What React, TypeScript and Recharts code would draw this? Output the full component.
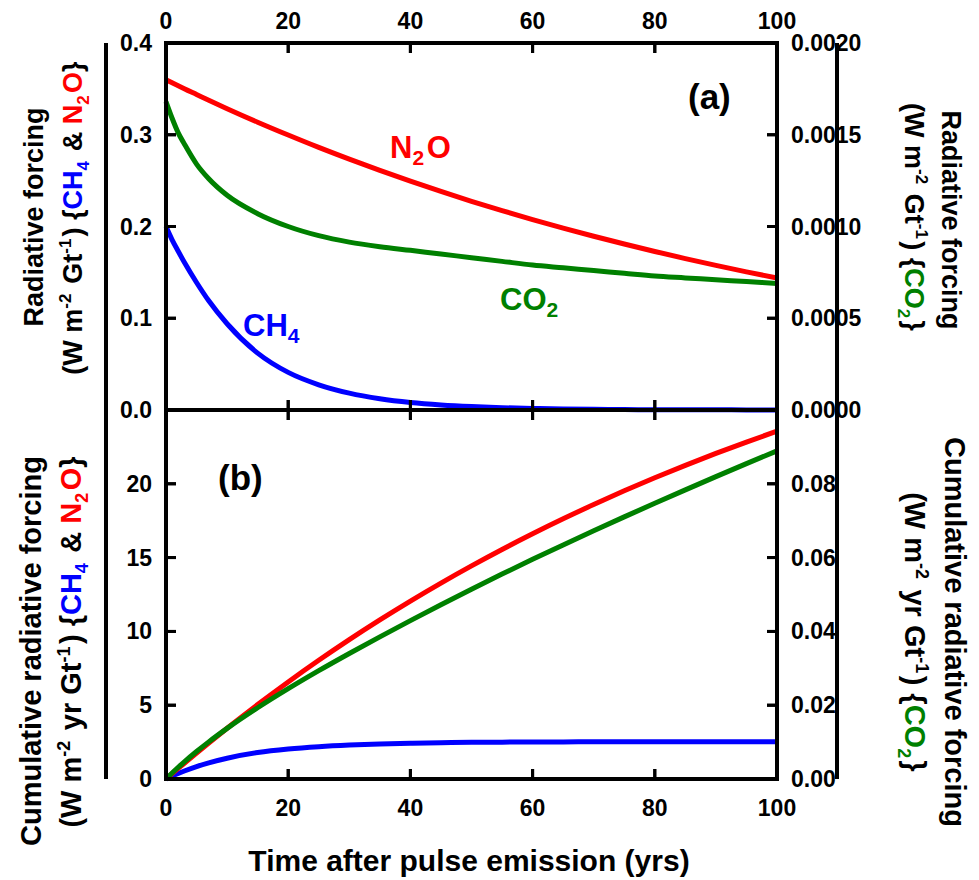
import React from 'react';
import { LineChart, Line, XAxis, YAxis } from 'recharts';

const years = [0, 1, 2, 3, 5, 7, 10, 15, 20, 25, 30, 35, 40, 45, 50, 55, 60, 65, 70, 75, 80, 85, 90, 95, 100];

const n2oForcing = [0.36, 0.3567, 0.3535, 0.3502, 0.3439, 0.3376, 0.3284, 0.3137, 0.2997, 0.2862, 0.2734, 0.2611, 0.2494, 0.2382, 0.2275, 0.2173, 0.2076, 0.1983, 0.1894, 0.1809, 0.1728, 0.165, 0.1576, 0.1506, 0.1438];
const ch4Forcing = [0.2, 0.1855, 0.173, 0.161, 0.139, 0.119, 0.094, 0.062, 0.041, 0.0275, 0.0184, 0.0123, 0.0082, 0.0055, 0.0037, 0.0025, 0.0017, 0.0011, 0.0008, 0.0005, 0.0003, 0.0002, 0.0002, 0.0001, 0.0001];
const co2Forcing = [0.00168, 0.00159, 0.00151, 0.00145, 0.00134, 0.00126, 0.00117, 0.00107, 0.001, 0.00095, 0.000915, 0.00089, 0.00087, 0.00085, 0.00083, 0.00081, 0.00079, 0.000775, 0.00076, 0.000745, 0.00073, 0.00072, 0.00071, 0.0007, 0.00069];

const n2oCumulative = [0, 0.358, 0.713, 1.065, 1.76, 2.442, 3.44, 5.045, 6.578, 8.043, 9.442, 10.779, 12.055, 13.274, 14.439, 15.551, 16.613, 17.628, 18.597, 19.523, 20.407, 21.252, 22.059, 22.829, 23.565];
const ch4Cumulative = [0, 0.193, 0.372, 0.539, 0.839, 1.097, 1.41, 1.79, 2.03, 2.19, 2.3, 2.375, 2.425, 2.46, 2.483, 2.498, 2.508, 2.515, 2.52, 2.523, 2.525, 2.527, 2.528, 2.529, 2.53];
const co2Cumulative = [0, 0.00164, 0.00319, 0.00467, 0.00746, 0.01006, 0.01371, 0.01931, 0.02448, 0.02936, 0.03402, 0.03853, 0.04293, 0.04723, 0.05143, 0.05553, 0.05953, 0.06344, 0.06728, 0.07104, 0.07473, 0.07836, 0.08194, 0.08546, 0.08893];

const xTicks = [0, 20, 40, 60, 80, 100];
const topLeftTicks = [0, 0.1, 0.2, 0.3, 0.4];
const topRightTicks = [0, 0.0005, 0.001, 0.0015, 0.002];
const botLeftTicks = [0, 5, 10, 15, 20];
const botRightTicks = [0, 0.02, 0.04, 0.06, 0.08];

const TOP_LEFT_MAX = 0.4;
const TOP_RIGHT_MAX = 0.002;
const BOT_LEFT_MAX = 25;
const BOT_RIGHT_MAX = 0.1;

const data = years.map((t, i) => ({
  t,
  ch4: ch4Forcing[i],
  n2o: n2oForcing[i],
  co2: co2Forcing[i],
  ch4c: ch4Cumulative[i],
  n2oc: n2oCumulative[i],
  co2c: co2Cumulative[i],
}));

const FONT = '"Liberation Sans", Arial, Helvetica, sans-serif';
const RED = '#ff0000';
const GREEN = '#008000';
const BLUE = '#0000ff';
const TICK_LEN = 10;
const TICK_FS = 23;

const W = 979;
const H = 880;
const M = { top: 13, right: 122, bottom: 71, left: 106 };
const XAXIS_H = 30;
const PL = M.left + 60;
const PR = W - M.right - 80;
const TOP_Y0 = M.top + XAXIS_H;
const BOT_Y1 = H - M.bottom - XAXIS_H;
const MID_Y = 410;
const topFrac = (MID_Y - TOP_Y0) / (BOT_Y1 - TOP_Y0);
const botFrac = (BOT_Y1 - MID_Y) / (BOT_Y1 - TOP_Y0);
const TL_MIN = -TOP_LEFT_MAX * (1 - topFrac) / topFrac;
const TR_MIN = -TOP_RIGHT_MAX * (1 - topFrac) / topFrac;
const BL_MAX = BOT_LEFT_MAX / botFrac;
const BR_MAX = BOT_RIGHT_MAX / botFrac;

// bottom-panel tick values expressed in the units of the visible (top-panel) axes
const toTl = (v: number) => TL_MIN + (v / BL_MAX) * (TOP_LEFT_MAX - TL_MIN);
const fromTl = (u: number) => ((u - TL_MIN) / (TOP_LEFT_MAX - TL_MIN)) * BL_MAX;
const toTr = (v: number) => TR_MIN + (v / BR_MAX) * (TOP_RIGHT_MAX - TR_MIN);
const fromTr = (u: number) => ((u - TR_MIN) / (TOP_RIGHT_MAX - TR_MIN)) * BR_MAX;

const leftTicks = [...botLeftTicks.map(toTl), ...topLeftTicks];
const rightTicks = [...botRightTicks.map(toTr), ...topRightTicks];
const leftFmt = (u: number) => (u >= -1e-9 ? u.toFixed(1) : String(Math.round(fromTl(u))));
const rightFmt = (u: number) => (u >= -1e-9 ? u.toFixed(4) : fromTr(u).toFixed(2));
const intFmt = (v: number) => String(v);

type Side = 'top' | 'bottom' | 'left' | 'right';

const makeTick = (side: Side, fmt: (v: number) => string) => (props: any) => {
  const { x, y, payload } = props;
  const v = payload.value as number;
  let tx = x;
  let ty = y;
  let anchor: 'start' | 'middle' | 'end' = 'middle';
  let dy = '0.35em';
  let d = '';
  if (side === 'left') {
    tx = PL - 14;
    anchor = 'end';
    d = `M${PL},${y}H${PL + TICK_LEN}`;
  } else if (side === 'right') {
    tx = PR + 14;
    anchor = 'start';
    d = `M${PR},${y}H${PR - TICK_LEN}`;
  } else if (side === 'top') {
    ty = TOP_Y0 - 14;
    dy = '0';
    d = `M${x},${TOP_Y0}V${TOP_Y0 + TICK_LEN}M${x},${MID_Y - TICK_LEN}V${MID_Y + TICK_LEN}`;
  } else {
    ty = BOT_Y1 + 20;
    dy = '0.72em';
    d = `M${x},${BOT_Y1}V${BOT_Y1 - TICK_LEN}`;
  }
  return (
    <g>
      <path d={d} stroke="#000" strokeWidth={3} fill="none" />
      <text x={tx} y={ty} dy={dy} textAnchor={anchor} fontSize={TICK_FS} fontWeight="bold" fontFamily={FONT} fill="#000">
        {fmt(v)}
      </text>
    </g>
  );
};

const AXLINE = { stroke: '#000', strokeWidth: 4 };
const ax = { tickLine: false, tickSize: 0, tickMargin: 0, interval: 0 as const };

const sx = (t: number) => PL + (t / 100) * (PR - PL);
const syTop = (v: number, max: number) => MID_Y - (v / max) * (MID_Y - TOP_Y0);
const syBot = (v: number, max: number) => BOT_Y1 - (v / max) * (BOT_Y1 - MID_Y);

function Frame() {
  const d: string[] = [];
  xTicks.slice(1, -1).forEach((t) => {
    const x = sx(t);
    d.push(`M${x},${TOP_Y0}V${TOP_Y0 + TICK_LEN}`);
    d.push(`M${x},${MID_Y - TICK_LEN}V${MID_Y + TICK_LEN}`);
    d.push(`M${x},${BOT_Y1}V${BOT_Y1 - TICK_LEN}`);
  });
  topLeftTicks.slice(1, -1).forEach((v) => d.push(`M${PL},${syTop(v, TOP_LEFT_MAX)}H${PL + TICK_LEN}`));
  topRightTicks.slice(1, -1).forEach((v) => d.push(`M${PR},${syTop(v, TOP_RIGHT_MAX)}H${PR - TICK_LEN}`));
  botLeftTicks.slice(1).forEach((v) => d.push(`M${PL},${syBot(v, BOT_LEFT_MAX)}H${PL + TICK_LEN}`));
  botRightTicks.slice(1).forEach((v) => d.push(`M${PR},${syBot(v, BOT_RIGHT_MAX)}H${PR - TICK_LEN}`));
  return (
    <g>
      <path d={d.join(' ')} stroke="#000" strokeWidth={3} fill="none" />
      <rect x={PL} y={TOP_Y0} width={PR - PL} height={BOT_Y1 - TOP_Y0} stroke="#000" strokeWidth={4} fill="none" />
      <path d={`M${PL},${MID_Y}H${PR}`} stroke="#000" strokeWidth={4} fill="none" />
    </g>
  );
}

const Sup = ({ children, size = 17 }: any) => (
  <>
    <tspan fontSize={size} dy={-11}>{children}</tspan>
    <tspan dy={11}>{'\u200a'}</tspan>
  </>
);
const Sub = ({ children, fill, size = 17 }: any) => (
  <>
    <tspan fontSize={size} dy={7} fill={fill}>{children}</tspan>
    <tspan dy={-7}>{'\u200a'}</tspan>
  </>
);

export default function App() {
  return (
    <div style={{ position: 'absolute', left: 0, top: 0, width: W, height: H, background: '#fff' }}>
      <LineChart width={W} height={H} data={data} margin={M}>
        <XAxis xAxisId="t" orientation="top" dataKey="t" type="number" domain={[0, 100]} ticks={xTicks} height={XAXIS_H}
          axisLine={AXLINE} {...ax} tick={makeTick('top', intFmt)} />
        <XAxis xAxisId="b" orientation="bottom" dataKey="t" type="number" domain={[0, 100]} ticks={xTicks} height={XAXIS_H}
          axisLine={AXLINE} {...ax} tick={makeTick('bottom', intFmt)} />
        <YAxis yAxisId="tl" orientation="left" type="number" domain={[TL_MIN, TOP_LEFT_MAX]} ticks={leftTicks} width={60}
          axisLine={AXLINE} {...ax} tick={makeTick('left', leftFmt)} />
        <YAxis yAxisId="tr" orientation="right" type="number" domain={[TR_MIN, TOP_RIGHT_MAX]} ticks={rightTicks} width={80}
          axisLine={AXLINE} {...ax} tick={makeTick('right', rightFmt)} />
        <YAxis yAxisId="bl" hide type="number" domain={[0, BL_MAX]} />
        <YAxis yAxisId="br" hide orientation="right" type="number" domain={[0, BR_MAX]} />
        <Line xAxisId="b" yAxisId="tl" dataKey="ch4" type="monotone" stroke={BLUE} strokeWidth={5} dot={false} isAnimationActive={false} />
        <Line xAxisId="b" yAxisId="tl" dataKey="n2o" type="monotone" stroke={RED} strokeWidth={5} dot={false} isAnimationActive={false} />
        <Line xAxisId="b" yAxisId="tr" dataKey="co2" type="monotone" stroke={GREEN} strokeWidth={5} dot={false} isAnimationActive={false} />
        <Line xAxisId="b" yAxisId="bl" dataKey="ch4c" type="monotone" stroke={BLUE} strokeWidth={5} dot={false} isAnimationActive={false} />
        <Line xAxisId="b" yAxisId="bl" dataKey="n2oc" type="monotone" stroke={RED} strokeWidth={5} dot={false} isAnimationActive={false} />
        <Line xAxisId="b" yAxisId="br" dataKey="co2c" type="monotone" stroke={GREEN} strokeWidth={5} dot={false} isAnimationActive={false} />
      </LineChart>
      <svg width={W} height={H} style={{ position: 'absolute', left: 0, top: 0, pointerEvents: 'none' }}>
        <Frame />
        <g fontFamily={FONT} fontWeight="bold" fill="#000">
          <text fontSize={27} textAnchor="middle" transform="translate(43,217) rotate(-90)">Radiative forcing</text>
          <text fontSize={27} textAnchor="middle" transform="translate(82,218) rotate(-90)">
            (W m<Sup>-2</Sup> Gt<Sup>-1</Sup>) {'{'}<tspan fill={BLUE}>CH</tspan><Sub fill={BLUE}>4</Sub> &amp; <tspan fill={RED}>N</tspan><Sub fill={RED}>2</Sub><tspan fill={RED}>O</tspan>{'}'}
          </text>
          <text fontSize={27} textAnchor="middle" transform="translate(942,220) rotate(90)">Radiative forcing</text>
          <text fontSize={27} textAnchor="middle" transform="translate(905,217) rotate(90)">
            (W m<Sup>-2</Sup> Gt<Sup>-1</Sup>) {'{'}<tspan fill={GREEN}>CO</tspan><Sub fill={GREEN}>2</Sub>{'}'}
          </text>
          <text fontSize={29} textAnchor="middle" transform="translate(41,651) rotate(-90)">Cumulative radiative forcing</text>
          <text fontSize={29} textAnchor="middle" transform="translate(81,642) rotate(-90)">
            (W m<Sup size={18}>-2</Sup> yr Gt<Sup size={18}>-1</Sup>) {'{'}<tspan fill={BLUE}>CH</tspan><Sub fill={BLUE} size={18}>4</Sub> &amp; <tspan fill={RED}>N</tspan><Sub fill={RED} size={18}>2</Sub><tspan fill={RED}>O</tspan>{'}'}
          </text>
          <text fontSize={29} textAnchor="middle" transform="translate(945,632) rotate(90)">Cumulative radiative forcing</text>
          <text fontSize={29} textAnchor="middle" transform="translate(905,632) rotate(90)">
            (W m<Sup size={18}>-2</Sup> yr Gt<Sup size={18}>-1</Sup>) {'{'}<tspan fill={GREEN}>CO</tspan><Sub fill={GREEN} size={18}>2</Sub>{'}'}
          </text>
          <text fontSize={30} textAnchor="middle" x={469} y={871}>Time after pulse emission (yrs)</text>
          <text fontSize={35} x={688} y={109}>(a)</text>
          <text fontSize={35} x={218} y={490}>(b)</text>
          <text fontSize={31} fill={RED} x={390} y={158}>N<Sub fill={RED} size={21}>2</Sub>O</text>
          <text fontSize={31} fill={GREEN} x={500} y={310}>CO<Sub fill={GREEN} size={21}>2</Sub></text>
          <text fontSize={31} fill={BLUE} x={243} y={336}>CH<Sub fill={BLUE} size={21}>4</Sub></text>
        </g>
      </svg>
    </div>
  );
}
